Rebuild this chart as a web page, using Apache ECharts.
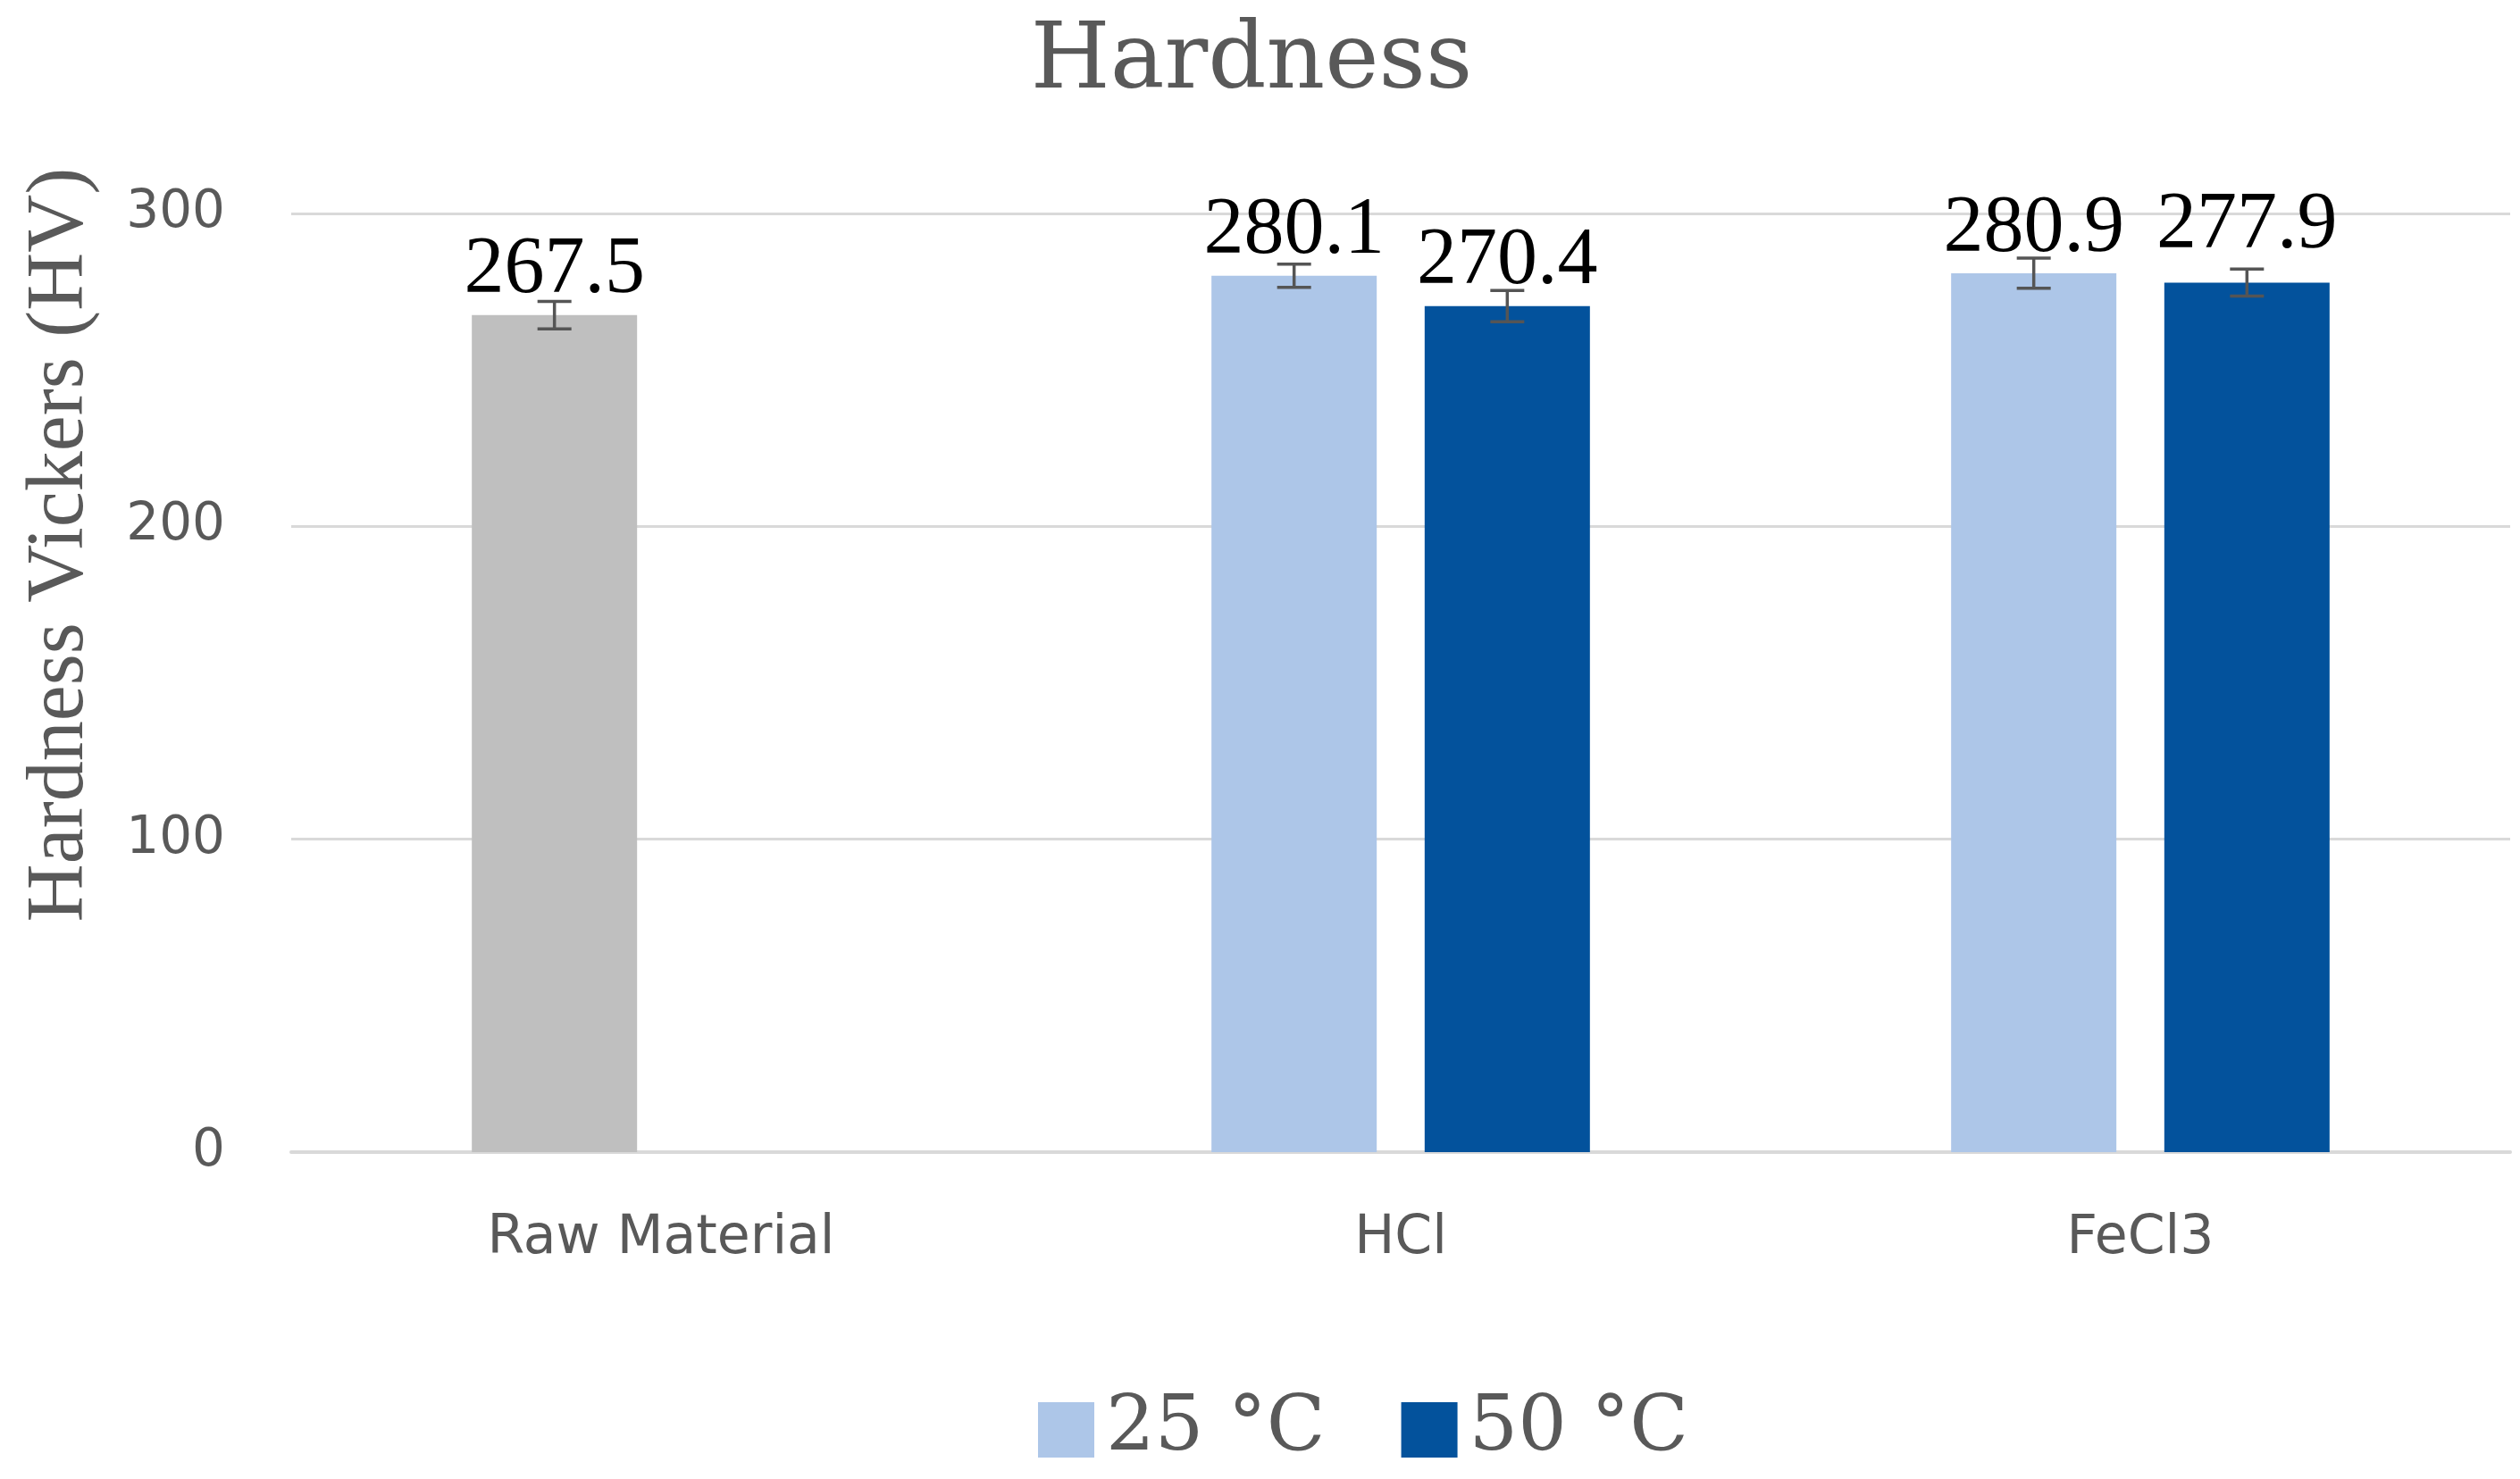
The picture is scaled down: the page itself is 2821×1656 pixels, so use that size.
<!DOCTYPE html>
<html>
<head>
<meta charset="utf-8">
<script src="https://cdn.jsdelivr.net/npm/echarts@6/dist/echarts.min.js"></script>
<style>html,body{margin:0;padding:0;background:#fff;}#c{width:2821px;height:1656px;}</style>
</head>
<body>
<div id="c"></div>
<script>
var categories = ['Raw Material', 'HCl', 'FeCl3'];
var seriesNames = ['25 °C', '50 °C'];
var values25 = [267.5, 280.1, 280.9];
var values50 = [null, 270.4, 277.9];
var errors25 = [4.4, 3.7, 4.8];
var errors50 = [null, 5.0, 4.3];
var yTicks = [0, 100, 200, 300];

var GREY = '#bfbfbf', LIGHT = '#adc6e8', DARK = '#03529c', TEXT = '#595959';
var BAR_W = 185, GAP = 0.29;

function barData(vals, firstColor, extraDist) {
  return vals.map(function (v, i) {
    if (v === null) return '-';
    var d = { value: v };
    if (i === 0 && firstColor) d.itemStyle = { color: firstColor };
    if (extraDist && extraDist[i]) d.label = { distance: extraDist[i] };
    return d;
  });
}
function errData(vals, errs) {
  var out = [];
  vals.forEach(function (v, i) { if (v !== null) out.push([i, v, errs[i]]); });
  return out;
}
function errRenderer(sign) {
  return function (params, api) {
    var i = api.value(0), v = api.value(1), e = api.value(2);
    var hi = api.coord([i, v + e]), lo = api.coord([i, v - e]);
    var off = sign * (BAR_W + BAR_W * GAP) / 2;
    var x = hi[0] + off, cap = 19;
    var st = { stroke: '#555555', lineWidth: 3.5 };
    return { type: 'group', children: [
      { type: 'line', shape: { x1: x, y1: hi[1], x2: x, y2: lo[1] }, style: st },
      { type: 'line', shape: { x1: x - cap, y1: hi[1], x2: x + cap, y2: hi[1] }, style: st },
      { type: 'line', shape: { x1: x - cap, y1: lo[1], x2: x + cap, y2: lo[1] }, style: st }
    ]};
  };
}

var chart = echarts.init(document.getElementById('c'), null, { renderer: 'canvas' });
var labelStyle = { show: true, position: 'top', distance: 4, color: '#000',
  fontFamily: 'Liberation Serif', fontSize: 90, formatter: function (p) { return p.value; } };

chart.setOption({
  backgroundColor: '#fff',
  animation: false,
  title: { text: 'Hardness', left: 1396, textAlign: 'center', top: 15,
    textStyle: { fontFamily: 'DejaVu Serif', fontWeight: 'normal', fontSize: 102, color: TEXT } },
  legend: { data: seriesNames, left: 1157, top: 1553, itemWidth: 63, itemHeight: 62, itemGap: 85,
    icon: 'rect', textStyle: { fontFamily: 'DejaVu Serif', fontSize: 86, color: TEXT, padding: [0, 0, 0, 8] } },
  grid: { left: 326, right: 11, top: 239, bottom: 366, containLabel: false },
  graphic: [{ type: 'text', x: 68, y: 610, rotation: Math.PI / 2,
    style: { text: 'Hardness Vickers (HV)', font: '90px "Liberation Serif"', fill: TEXT,
      align: 'center', verticalAlign: 'middle' } }],
  xAxis: { type: 'category', data: categories,
    axisLine: { lineStyle: { color: '#d9d9d9', width: 4 } }, axisTick: { show: false },
    axisLabel: { fontFamily: 'DejaVu Sans', fontSize: 60, color: TEXT, margin: 67 } },
  yAxis: { type: 'value', min: yTicks[0], max: yTicks[yTicks.length - 1], interval: 100,
    axisLine: { show: false }, axisTick: { show: false },
    splitLine: { lineStyle: { color: '#d9d9d9', width: 3 } },
    axisLabel: { fontFamily: 'DejaVu Sans', fontSize: 58, color: TEXT, margin: 74 } },
  series: [
    { name: seriesNames[0], type: 'bar', barWidth: BAR_W, barGap: (GAP * 100) + '%',
      itemStyle: { color: LIGHT }, data: barData(values25, GREY, null), label: labelStyle },
    { name: seriesNames[1], type: 'bar', barWidth: BAR_W, barGap: (GAP * 100) + '%',
      itemStyle: { color: DARK }, data: barData(values50, null, [0, 0, 18]), label: labelStyle },
    { name: 'err25', type: 'custom', renderItem: errRenderer(-1), data: errData(values25, errors25),
      encode: { x: 0, y: 1 }, z: 5, silent: true },
    { name: 'err50', type: 'custom', renderItem: errRenderer(1), data: errData(values50, errors50),
      encode: { x: 0, y: 1 }, z: 5, silent: true }
  ]
});
</script>
</body>
</html>
